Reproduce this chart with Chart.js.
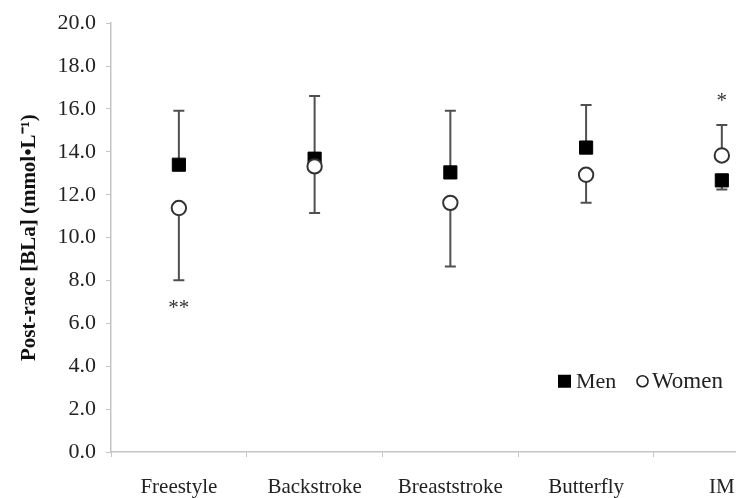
<!DOCTYPE html>
<html><head><meta charset="utf-8">
<script src="https://cdn.jsdelivr.net/npm/chart.js@4/dist/chart.umd.min.js"></script>
<style>
html,body{margin:0;padding:0;background:#fff;overflow:hidden;}
#wrap{width:736px;height:498px;overflow:hidden;position:relative;background:#fff;}
canvas{display:block;}
</style></head><body>
<div id="wrap"><canvas id="c" width="800" height="498"></canvas></div>
<script>
// ---- data ----
const categories = ['Freestyle', 'Backstroke', 'Breaststroke', 'Butterfly', 'IM'];
const menMean   = [13.40, 13.68, 13.04, 14.20, 12.67];
const menSD     = [2.52, 2.92, 2.88, 1.98, 0.43];
const womenMean = [11.38, 13.32, 11.62, 12.93, 13.83];
const womenSD   = [3.37, 2.17, 2.97, 1.31, 1.42];
const sigMarks  = ['**', '', '', '', '*'];
const sigY      = [6.95, null, null, null, 16.6];
const yTickValues = [0, 2, 4, 6, 8, 10, 12, 14, 16, 18, 20];
const yTitle = 'Post-race [BLa] (mmol\u2022L\u207B\u00B9)';
const seriesNames = ['Men', 'Women'];

const SERIF = "'Liberation Serif', 'Times New Roman', serif";
const AXIS_COLOR = '#c4c4c4';
const BAR_COLOR = '#505050';

const errorBarPlugin = {
  id: 'errorBars',
  beforeDatasetsDraw(chart) {
    const {ctx, scales: {x, y}} = chart;
    ctx.save();
    ctx.strokeStyle = BAR_COLOR;
    ctx.lineWidth = 2;
    const cap = 5.5;
    categories.forEach((c, i) => {
      const px = x.getPixelForValue(i);
      const menDir = menMean[i] >= womenMean[i] ? 1 : -1;
      const bars = [
        [menMean[i], menMean[i] + menDir * menSD[i]],
        [womenMean[i], womenMean[i] - menDir * womenSD[i]]
      ];
      bars.forEach(([m, e]) => {
        const y0 = y.getPixelForValue(m), y1 = y.getPixelForValue(e);
        ctx.beginPath();
        ctx.moveTo(px, y0); ctx.lineTo(px, y1);
        ctx.moveTo(px - cap, y1); ctx.lineTo(px + cap, y1);
        ctx.stroke();
      });
    });
    ctx.restore();
  },
  afterDatasetsDraw(chart) {
    const {ctx, scales: {x, y}, chartArea} = chart;
    ctx.save();
    // significance marks
    ctx.fillStyle = '#333';
    ctx.font = '21px ' + SERIF;
    ctx.textAlign = 'center';
    ctx.textBaseline = 'alphabetic';
    sigMarks.forEach((s, i) => {
      if (!s) return;
      const px = x.getPixelForValue(i);
      const py = y.getPixelForValue(sigY[i]);
      ctx.fillText(s, px, py + 11);
    });
    // legend inside plot
    const ly = y.getPixelForValue(3.3);
    const lx = chartArea.left + 447;
    ctx.fillStyle = '#000';
    ctx.fillRect(lx, ly - 6.5, 13, 13);
    ctx.font = '22px ' + SERIF;
    ctx.textAlign = 'left';
    ctx.textBaseline = 'middle';
    ctx.fillStyle = '#222';
    ctx.fillText(seriesNames[0], lx + 18, ly + 1);
    ctx.beginPath();
    ctx.arc(lx + 84.5, ly, 5.5, 0, Math.PI * 2);
    ctx.strokeStyle = '#222';
    ctx.lineWidth = 1.6;
    ctx.stroke();
    ctx.font = '23px ' + SERIF;
    ctx.fillText(seriesNames[1], lx + 94, ly + 1);
    ctx.restore();
  }
};

new Chart(document.getElementById('c'), {
  type: 'line',
  data: {
    labels: categories,
    datasets: [
      {
        label: seriesNames[1],
        data: womenMean,
        showLine: false,
        pointStyle: 'circle',
        pointRadius: 7.2,
        pointBorderWidth: 2,
        pointBackgroundColor: '#fff',
        pointBorderColor: '#333',
        order: 0
      },
      {
        label: seriesNames[0],
        data: menMean,
        showLine: false,
        pointStyle: 'rect',
        pointRadius: 9.3,
        pointBorderWidth: 1,
        pointBackgroundColor: '#000',
        pointBorderColor: '#000',
        order: 1
      }
    ]
  },
  options: {
    responsive: false,
    animation: false,
    devicePixelRatio: 1,
    layout: {padding: {top: 21, right: 10, left: 0, bottom: 0}},
    plugins: {legend: {display: false}, tooltip: {enabled: false}},
    scales: {
      x: {
        type: 'category',
        offset: true,
        grid: {offset: true, drawOnChartArea: false, drawTicks: true, tickLength: 5, color: AXIS_COLOR, lineWidth: 1},
        border: {color: AXIS_COLOR, width: 1.5},
        ticks: {color: '#222', font: {family: SERIF, size: 21}, padding: 18, maxRotation: 0, autoSkip: false},
        afterFit(s) { s.height = 46; }
      },
      y: {
        min: 0, max: 20,
        afterBuildTicks(s) { s.ticks = yTickValues.map(v => ({value: v})); },
        grid: {drawOnChartArea: false, drawTicks: true, tickLength: 5, color: AXIS_COLOR, lineWidth: 1},
        border: {color: AXIS_COLOR, width: 1.5},
        ticks: {color: '#222', font: {family: SERIF, size: 22}, padding: 10, callback: v => Number(v).toFixed(1)},
        title: {display: true, text: yTitle, color: '#111', font: {family: SERIF, size: 21, weight: 'bold'}, padding: {top: 17, bottom: 0}},
        afterFit(s) { s.width = 111; }
      }
    }
  },
  plugins: [errorBarPlugin]
});
</script>
</body></html>
